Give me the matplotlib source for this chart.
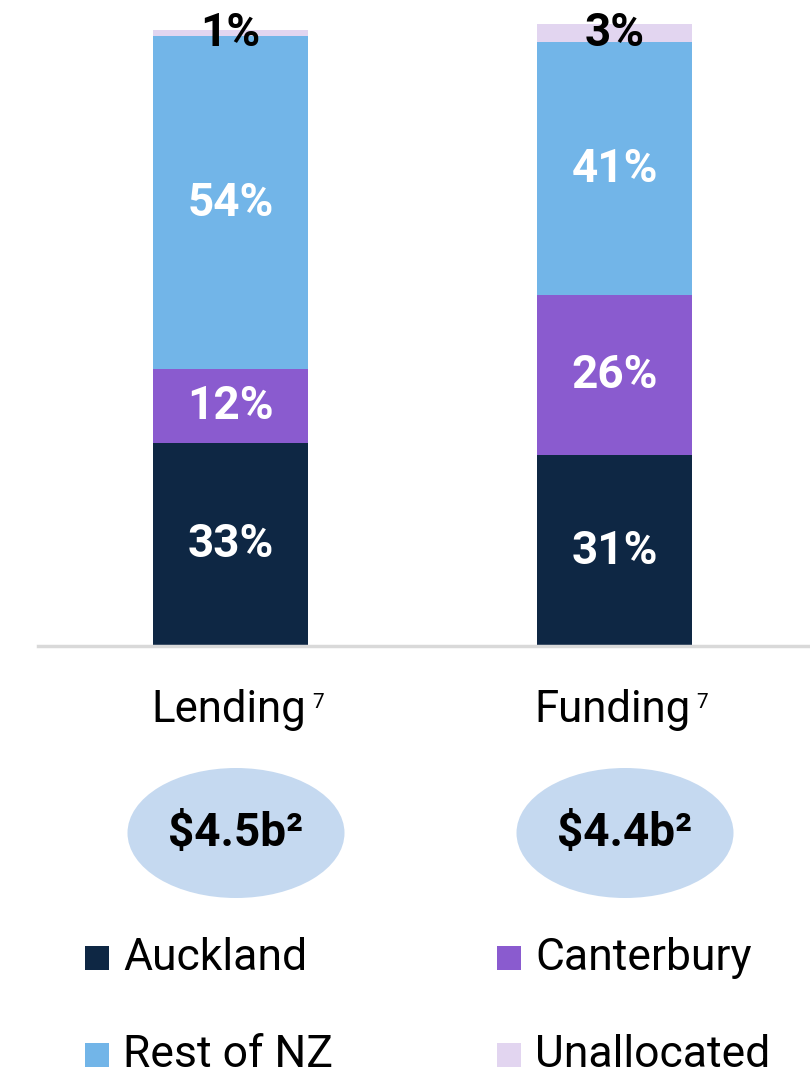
import numpy as np
import matplotlib.pyplot as plt
from matplotlib.patches import Ellipse, Rectangle

plt.rcParams['font.family'] = ['Roboto', 'DejaVu Sans']

# data
categories = ['Lending', 'Funding']
regions = ['Auckland', 'Canterbury', 'Rest of NZ', 'Unallocated']
auckland = [33, 31]
canterbury = [12, 26]
rest_nz = [54, 41]
unallocated = [1, 3]
totals = ['$4.5b²', '$4.4b²']
footnote = '7'

colori = ['#0E2744', '#8A5BCF', '#72B5E8', '#E2D5F0']
testo_col = ['white', 'white', 'white', 'black']

fig = plt.figure(figsize=(8.1, 10.8), dpi=100)
ax = fig.add_axes([38/810, 1 - 646/1080, 1 - 38/810, 646/1080])

x = np.arange(len(categories))
serie = [auckland, canterbury, rest_nz, unallocated]
base = np.zeros(len(categories))
for vals, col, tcol in zip(serie, colori, testo_col):
    vals = np.array(vals, dtype=float)
    ax.bar(x, vals, width=0.403, bottom=base, color=col, edgecolor='none')
    for xi, b, v in zip(x, base, vals):
        ax.text(xi, b + v / 2, f'{v:.0f}%', ha='center', va='center',
                color=tcol, fontsize=33, fontweight='bold')
    base = base + vals

ax.set_xlim(-0.5, 1.507)
ax.set_ylim(0, 104.9)
ax.axhline(0, color='#D9D9D9', lw=2.5, clip_on=False)
ax.axis('off')

# overlay in pixel coordinates
ov = fig.add_axes([0, 0, 1, 1])
ov.set_xlim(0, 810)
ov.set_ylim(1080, 0)
ov.axis('off')

cat_x = [229, 613]
ell_x = [236, 625]
for cx, ex, nome, tot in zip(cat_x, ell_x, categories, totals):
    t = ov.text(cx, 722, nome, ha='center', va='baseline', fontsize=31.5, color='black')
    ov.annotate(footnote, xy=(1, 1), xycoords=t, xytext=(4, -3), textcoords='offset points',
                ha='left', va='top', fontsize=15, color='black')
    ov.add_patch(Ellipse((ex, 833), 217, 130, color='#C5D9F0', lw=0))
    ov.text(ex, 833, tot, ha='center', va='center', fontsize=33, fontweight='bold', color='black')

# legend
leg_pos = [(85, 958), (497, 958), (85, 1055), (497, 1055)]
for (lx, ly), nome, col in zip(leg_pos, regions, colori):
    ov.add_patch(Rectangle((lx, ly - 12), 24, 24, color=col, lw=0))
    ov.text(lx + 38, ly, nome, ha='left', va='center', fontsize=32, color='black')

plt.savefig('out.png', dpi=100)
